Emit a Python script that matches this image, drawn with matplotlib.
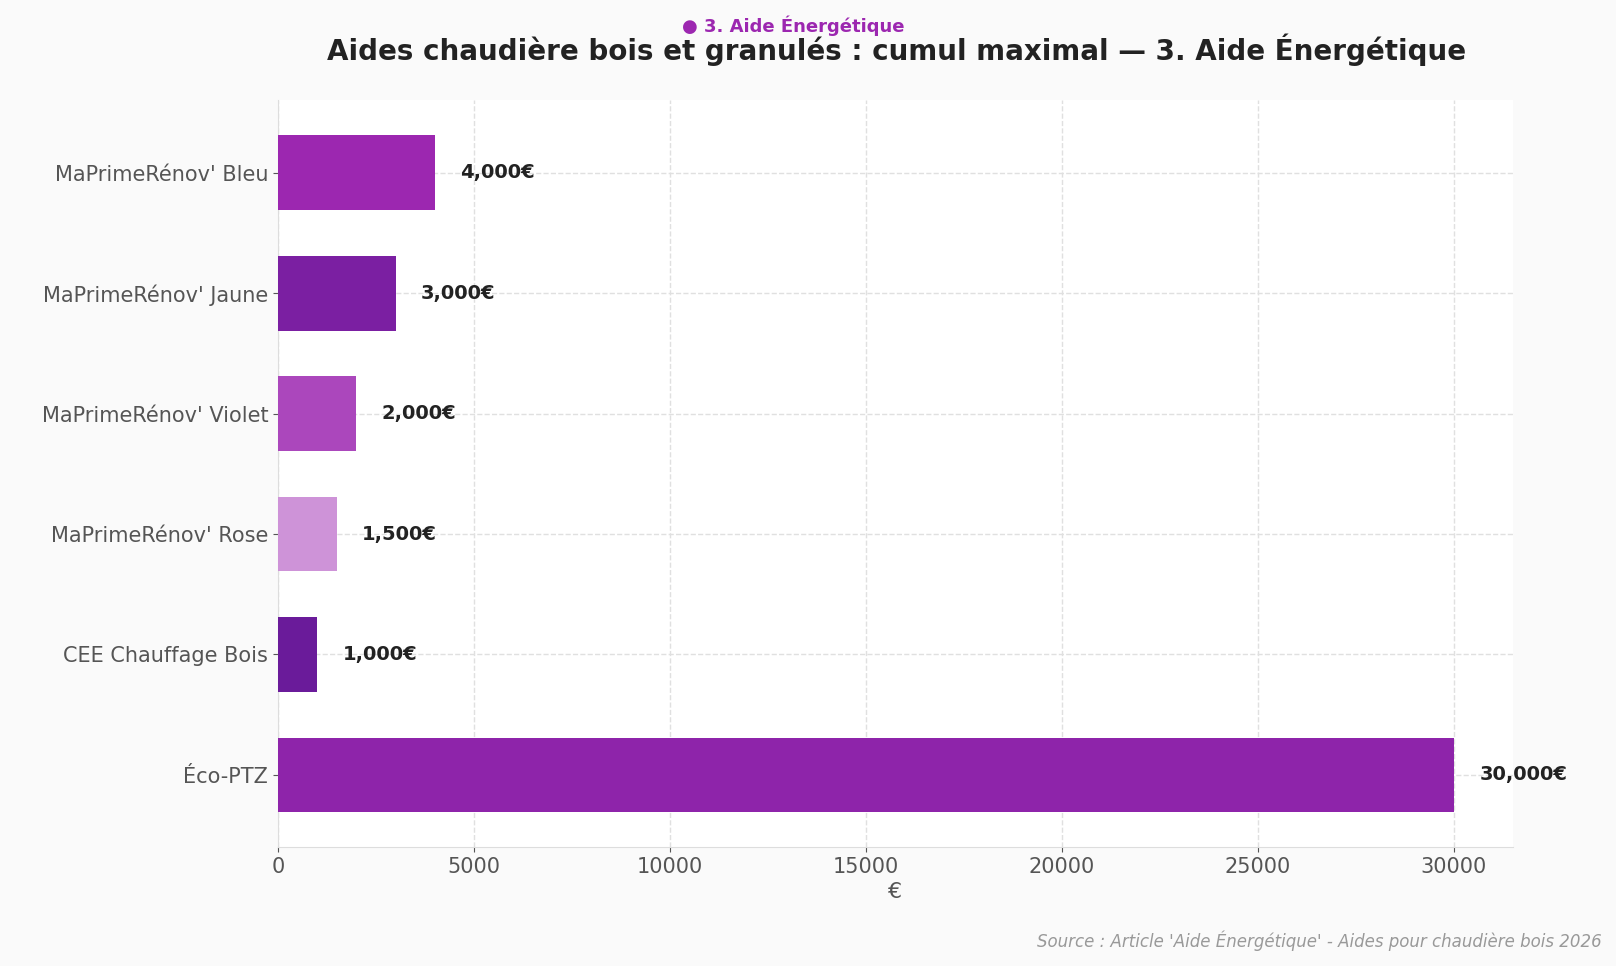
import matplotlib
matplotlib.use("Agg")
import matplotlib.pyplot as plt

categories = ["MaPrimeRénov' Bleu", "MaPrimeRénov' Jaune", "MaPrimeRénov' Violet",
              "MaPrimeRénov' Rose", "CEE Chauffage Bois", "Éco-PTZ"]
values = [4000, 3000, 2000, 1500, 1000, 30000]
colors = ["#9C27B0", "#7B1FA2", "#AB47BC", "#CE93D8", "#6A1B9A", "#8E24AA"]

fig = plt.figure(figsize=(16.16, 9.66), dpi=100, facecolor="#FAFAFA")
ax = fig.add_axes([0.172, 0.123, 0.764, 0.773])
ax.set_facecolor("white")
y = list(range(len(categories)))
ax.barh(y, values, color=colors, height=0.62, zorder=3)
ax.invert_yaxis()
ax.set_yticks(y)
ax.set_yticklabels(categories, fontsize=15, color="#555555")
ax.tick_params(axis="x", labelsize=15, colors="#555555")
ax.tick_params(axis="y", colors="#555555")
for t in ax.get_xticklabels():
    t.set_color("#555555")
ax.set_xlim(0, 31500)
ax.set_ylim(5.6, -0.6)
ax.grid(True, linestyle="--", color="#E0E0E0", linewidth=1, zorder=0)
for s in ["top", "right"]:
    ax.spines[s].set_visible(False)
for s in ["left", "bottom"]:
    ax.spines[s].set_color("#DDDDDD")
for yi, v in zip(y, values):
    ax.text(v + 650, yi, f"{v:,}€", va="center", ha="left", fontsize=14,
            fontweight="bold", color="#222222", zorder=4)
ax.set_xlabel("€", fontsize=16, color="#555555")
fig.text(0.555, 0.948, "Aides chaudière bois et granulés : cumul maximal — 3. Aide Énergétique",
         ha="center", va="center", fontsize=20, fontweight="bold", color="#222222")
fig.text(0.491, 0.973, "● 3. Aide Énergétique", ha="center", va="center",
         fontsize=13, fontweight="bold", color="#9C27B0")
fig.text(0.991, 0.026, "Source : Article 'Aide Énergétique' - Aides pour chaudière bois 2026",
         ha="right", va="center", fontsize=12, style="italic", color="#999999")
fig.savefig("out.png", dpi=100, facecolor=fig.get_facecolor())
